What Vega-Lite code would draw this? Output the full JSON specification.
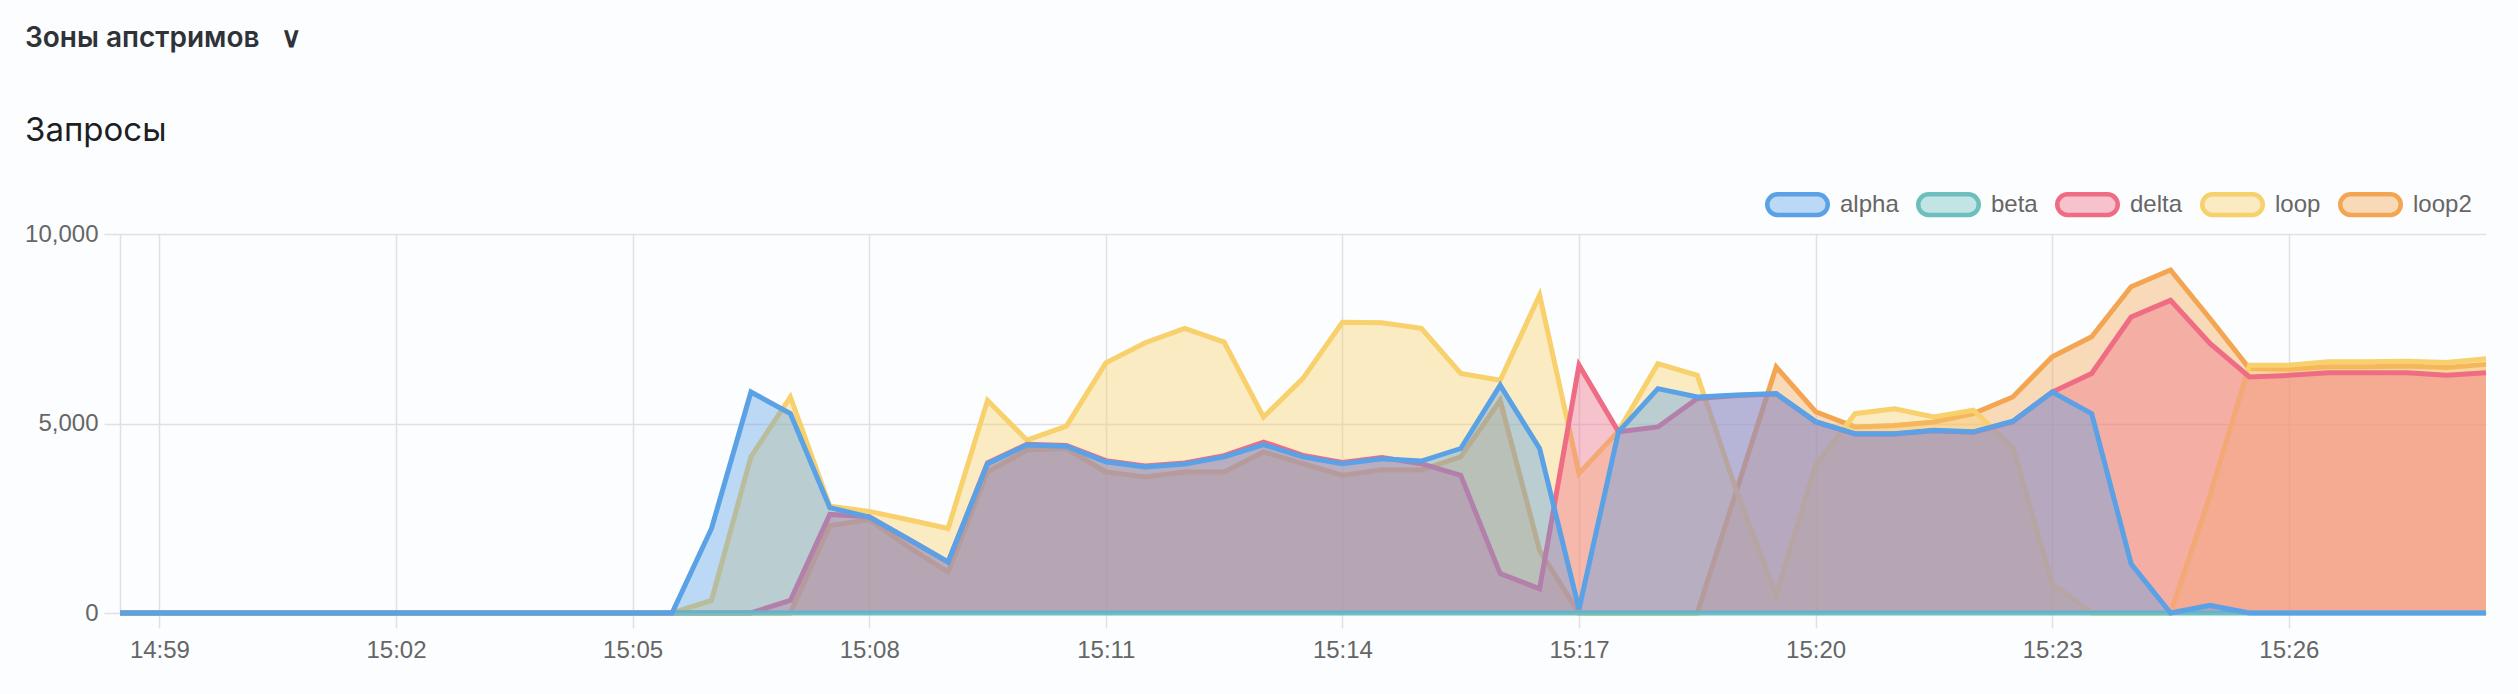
{
  "$schema": "https://vega.github.io/schema/vega-lite/v6.json",
  "width": 2366,
  "height": 379,
  "autosize": {"type": "none"},
  "padding": {"left": 120, "top": 234, "right": 32, "bottom": 81},
  "background": "#fcfdfe",
  "title": {
    "text": "Зоны апстримов\u00a0\u00a0\u00a0∨",
    "subtitle": "Запросы",
    "anchor": "start",
    "frame": "group",
    "dx": -95,
    "offset": 24,
    "font": "Inter",
    "fontSize": 28,
    "fontWeight": 600,
    "color": "#2f3237",
    "subtitleFont": "Inter",
    "subtitleFontSize": 33,
    "subtitleFontWeight": 400,
    "subtitleColor": "#1d1f22",
    "subtitlePadding": 62
  },
  "data": {
    "values": [
      {"time": "2024-01-01T14:58:30", "alpha": 0, "beta": 0, "delta": 0, "loop": 0, "loop2": 0},
      {"time": "2024-01-01T14:59:00", "alpha": 0, "beta": 0, "delta": 0, "loop": 0, "loop2": 0},
      {"time": "2024-01-01T14:59:30", "alpha": 0, "beta": 0, "delta": 0, "loop": 0, "loop2": 0},
      {"time": "2024-01-01T15:00:00", "alpha": 0, "beta": 0, "delta": 0, "loop": 0, "loop2": 0},
      {"time": "2024-01-01T15:00:30", "alpha": 0, "beta": 0, "delta": 0, "loop": 0, "loop2": 0},
      {"time": "2024-01-01T15:01:00", "alpha": 0, "beta": 0, "delta": 0, "loop": 0, "loop2": 0},
      {"time": "2024-01-01T15:01:30", "alpha": 0, "beta": 0, "delta": 0, "loop": 0, "loop2": 0},
      {"time": "2024-01-01T15:02:00", "alpha": 0, "beta": 0, "delta": 0, "loop": 0, "loop2": 0},
      {"time": "2024-01-01T15:02:30", "alpha": 0, "beta": 0, "delta": 0, "loop": 0, "loop2": 0},
      {"time": "2024-01-01T15:03:00", "alpha": 0, "beta": 0, "delta": 0, "loop": 0, "loop2": 0},
      {"time": "2024-01-01T15:03:30", "alpha": 0, "beta": 0, "delta": 0, "loop": 0, "loop2": 0},
      {"time": "2024-01-01T15:04:00", "alpha": 0, "beta": 0, "delta": 0, "loop": 0, "loop2": 0},
      {"time": "2024-01-01T15:04:30", "alpha": 0, "beta": 0, "delta": 0, "loop": 0, "loop2": 0},
      {"time": "2024-01-01T15:05:00", "alpha": 0, "beta": 0, "delta": 0, "loop": 0, "loop2": 0},
      {"time": "2024-01-01T15:05:30", "alpha": 0, "beta": 0, "delta": 0, "loop": 0, "loop2": 0},
      {"time": "2024-01-01T15:06:00", "alpha": 2230, "beta": 0, "delta": 0, "loop": 330, "loop2": 0},
      {"time": "2024-01-01T15:06:30", "alpha": 5830, "beta": 0, "delta": 0, "loop": 4120, "loop2": 0},
      {"time": "2024-01-01T15:07:00", "alpha": 5260, "beta": 0, "delta": 330, "loop": 5700, "loop2": 0},
      {"time": "2024-01-01T15:07:30", "alpha": 2780, "beta": 0, "delta": 2600, "loop": 2820, "loop2": 2310},
      {"time": "2024-01-01T15:08:00", "alpha": 2530, "beta": 0, "delta": 2540, "loop": 2680, "loop2": 2460},
      {"time": "2024-01-01T15:08:30", "alpha": 1950, "beta": 0, "delta": 1940, "loop": 2460, "loop2": 1740},
      {"time": "2024-01-01T15:09:00", "alpha": 1350, "beta": 0, "delta": 1340, "loop": 2230, "loop2": 1080},
      {"time": "2024-01-01T15:09:30", "alpha": 3940, "beta": 0, "delta": 3960, "loop": 5610, "loop2": 3720},
      {"time": "2024-01-01T15:10:00", "alpha": 4430, "beta": 0, "delta": 4450, "loop": 4560, "loop2": 4300},
      {"time": "2024-01-01T15:10:30", "alpha": 4400, "beta": 0, "delta": 4420, "loop": 4930, "loop2": 4340},
      {"time": "2024-01-01T15:11:00", "alpha": 3990, "beta": 0, "delta": 4020, "loop": 6600, "loop2": 3720},
      {"time": "2024-01-01T15:11:30", "alpha": 3850, "beta": 0, "delta": 3880, "loop": 7130, "loop2": 3590},
      {"time": "2024-01-01T15:12:00", "alpha": 3930, "beta": 0, "delta": 3960, "loop": 7510, "loop2": 3720},
      {"time": "2024-01-01T15:12:30", "alpha": 4120, "beta": 0, "delta": 4150, "loop": 7150, "loop2": 3720},
      {"time": "2024-01-01T15:13:00", "alpha": 4440, "beta": 0, "delta": 4510, "loop": 5170, "loop2": 4250},
      {"time": "2024-01-01T15:13:30", "alpha": 4120, "beta": 0, "delta": 4160, "loop": 6190, "loop2": 3940},
      {"time": "2024-01-01T15:14:00", "alpha": 3940, "beta": 0, "delta": 3970, "loop": 7670, "loop2": 3630},
      {"time": "2024-01-01T15:14:30", "alpha": 4070, "beta": 0, "delta": 4100, "loop": 7660, "loop2": 3780},
      {"time": "2024-01-01T15:15:00", "alpha": 4010, "beta": 0, "delta": 3940, "loop": 7510, "loop2": 3770},
      {"time": "2024-01-01T15:15:30", "alpha": 4340, "beta": 0, "delta": 3630, "loop": 6320, "loop2": 4120},
      {"time": "2024-01-01T15:16:00", "alpha": 6010, "beta": 0, "delta": 1040, "loop": 6140, "loop2": 5610},
      {"time": "2024-01-01T15:16:30", "alpha": 4340, "beta": 0, "delta": 640, "loop": 8390, "loop2": 1650},
      {"time": "2024-01-01T15:17:00", "alpha": 100, "beta": 0, "delta": 6540, "loop": 3680, "loop2": 0},
      {"time": "2024-01-01T15:17:30", "alpha": 4780, "beta": 0, "delta": 4780, "loop": 4800, "loop2": 0},
      {"time": "2024-01-01T15:18:00", "alpha": 5920, "beta": 0, "delta": 4910, "loop": 6580, "loop2": 0},
      {"time": "2024-01-01T15:18:30", "alpha": 5700, "beta": 0, "delta": 5660, "loop": 6270, "loop2": 0},
      {"time": "2024-01-01T15:19:00", "alpha": 5750, "beta": 0, "delta": 5740, "loop": 3200, "loop2": 3250},
      {"time": "2024-01-01T15:19:30", "alpha": 5790, "beta": 0, "delta": 5780, "loop": 470, "loop2": 6490},
      {"time": "2024-01-01T15:20:00", "alpha": 5050, "beta": 0, "delta": 5040, "loop": 3900, "loop2": 5310},
      {"time": "2024-01-01T15:20:30", "alpha": 4730, "beta": 0, "delta": 4720, "loop": 5260, "loop2": 4910},
      {"time": "2024-01-01T15:21:00", "alpha": 4730, "beta": 0, "delta": 4720, "loop": 5390, "loop2": 4950},
      {"time": "2024-01-01T15:21:30", "alpha": 4820, "beta": 0, "delta": 4810, "loop": 5170, "loop2": 5040},
      {"time": "2024-01-01T15:22:00", "alpha": 4780, "beta": 0, "delta": 4770, "loop": 5350, "loop2": 5260},
      {"time": "2024-01-01T15:22:30", "alpha": 5060, "beta": 0, "delta": 5050, "loop": 4380, "loop2": 5700},
      {"time": "2024-01-01T15:23:00", "alpha": 5830, "beta": 0, "delta": 5830, "loop": 770, "loop2": 6760},
      {"time": "2024-01-01T15:23:30", "alpha": 5260, "beta": 0, "delta": 6320, "loop": 0, "loop2": 7290},
      {"time": "2024-01-01T15:24:00", "alpha": 1300, "beta": 0, "delta": 7810, "loop": 0, "loop2": 8610},
      {"time": "2024-01-01T15:24:30", "alpha": 0, "beta": 0, "delta": 8250, "loop": 0, "loop2": 9050},
      {"time": "2024-01-01T15:25:00", "alpha": 200, "beta": 0, "delta": 7110, "loop": 3100, "loop2": 7770},
      {"time": "2024-01-01T15:25:30", "alpha": 0, "beta": 0, "delta": 6230, "loop": 6540, "loop2": 6450},
      {"time": "2024-01-01T15:26:00", "alpha": 0, "beta": 0, "delta": 6270, "loop": 6540, "loop2": 6430},
      {"time": "2024-01-01T15:26:30", "alpha": 0, "beta": 0, "delta": 6340, "loop": 6630, "loop2": 6500},
      {"time": "2024-01-01T15:27:00", "alpha": 0, "beta": 0, "delta": 6340, "loop": 6630, "loop2": 6500},
      {"time": "2024-01-01T15:27:30", "alpha": 0, "beta": 0, "delta": 6340, "loop": 6640, "loop2": 6520},
      {"time": "2024-01-01T15:28:00", "alpha": 0, "beta": 0, "delta": 6270, "loop": 6610, "loop2": 6480},
      {"time": "2024-01-01T15:28:30", "alpha": 0, "beta": 0, "delta": 6340, "loop": 6710, "loop2": 6560}
    ]
  },
  "transform": [
    {"fold": ["alpha", "beta", "delta", "loop", "loop2"], "as": ["series", "value"]}
  ],
  "encoding": {
    "x": {
      "field": "time",
      "type": "temporal",
      "scale": {
        "domain": [
          {"year": 2024, "month": 1, "date": 1, "hours": 14, "minutes": 58, "seconds": 30},
          {"year": 2024, "month": 1, "date": 1, "hours": 15, "minutes": 28, "seconds": 30}
        ],
        "nice": false
      },
      "axis": {
        "title": null,
        "format": "%H:%M",
        "values": [
          {"year": 2024, "month": 1, "date": 1, "hours": 14, "minutes": 59},
          {"year": 2024, "month": 1, "date": 1, "hours": 15, "minutes": 2},
          {"year": 2024, "month": 1, "date": 1, "hours": 15, "minutes": 5},
          {"year": 2024, "month": 1, "date": 1, "hours": 15, "minutes": 8},
          {"year": 2024, "month": 1, "date": 1, "hours": 15, "minutes": 11},
          {"year": 2024, "month": 1, "date": 1, "hours": 15, "minutes": 14},
          {"year": 2024, "month": 1, "date": 1, "hours": 15, "minutes": 17},
          {"year": 2024, "month": 1, "date": 1, "hours": 15, "minutes": 20},
          {"year": 2024, "month": 1, "date": 1, "hours": 15, "minutes": 23},
          {"year": 2024, "month": 1, "date": 1, "hours": 15, "minutes": 26}
        ],
        "tickSize": 15,
        "labelPadding": 10,
        "labelFlush": false
      }
    },
    "y": {
      "field": "value",
      "type": "quantitative",
      "stack": null,
      "scale": {"domain": [0, 10000], "nice": false},
      "axis": {
        "title": null,
        "values": [0, 5000, 10000],
        "format": ",d",
        "tickSize": 16,
        "labelPadding": 6
      }
    },
    "color": {
      "field": "series",
      "type": "nominal",
      "scale": {
        "domain": ["alpha", "beta", "delta", "loop", "loop2"],
        "range": ["#5aa1e6", "#6dbfbe", "#ee6c84", "#f8d06c", "#f3a552"]
      },
      "legend": {
        "title": null,
        "orient": "none",
        "legendX": 1645,
        "legendY": -62,
        "direction": "horizontal",
        "symbolType": "M-0.661,-0.339L0.661,-0.339A0.339,0.339,0,0,1,0.661,0.339L-0.661,0.339A0.339,0.339,0,0,1,-0.661,-0.339Z",
        "symbolSize": 3660,
        "labelOffset": 10,
        "columnPadding": 10,
        "padding": 0,
        "encode": {
          "symbols": {
            "update": {
              "fill": {"scale": "color", "field": "value"},
              "fillOpacity": {"value": 0.4},
              "stroke": {"scale": "color", "field": "value"},
              "strokeWidth": {"value": 4.5},
              "opacity": {"value": 1}
            }
          }
        }
      }
    }
  },
  "layer": [
    {"transform": [{"filter": "datum.series === 'loop2'"}], "mark": {"type": "area", "fillOpacity": 0.4}},
    {"transform": [{"filter": "datum.series === 'loop2'"}], "mark": {"type": "line", "strokeWidth": 5}},
    {"transform": [{"filter": "datum.series === 'loop'"}], "mark": {"type": "area", "fillOpacity": 0.4}},
    {"transform": [{"filter": "datum.series === 'loop'"}], "mark": {"type": "line", "strokeWidth": 5}},
    {"transform": [{"filter": "datum.series === 'delta'"}], "mark": {"type": "area", "fillOpacity": 0.4}},
    {"transform": [{"filter": "datum.series === 'delta'"}], "mark": {"type": "line", "strokeWidth": 5}},
    {"transform": [{"filter": "datum.series === 'beta'"}], "mark": {"type": "area", "fillOpacity": 0.4}},
    {"transform": [{"filter": "datum.series === 'beta'"}], "mark": {"type": "line", "strokeWidth": 5}},
    {"transform": [{"filter": "datum.series === 'alpha'"}], "mark": {"type": "area", "fillOpacity": 0.4}},
    {"transform": [{"filter": "datum.series === 'alpha'"}], "mark": {"type": "line", "strokeWidth": 5}}
  ],
  "config": {
    "view": {"stroke": null},
    "axis": {
      "labelFont": "Liberation Sans",
      "labelFontSize": 24,
      "labelColor": "#666666",
      "gridColor": "#e1e1e3",
      "gridWidth": 1.5,
      "tickColor": "#e1e1e3",
      "tickWidth": 1.5,
      "domainColor": "#e1e1e3",
      "domainWidth": 1.5
    },
    "legend": {
      "labelFont": "Liberation Sans",
      "labelFontSize": 24,
      "labelColor": "#666666"
    }
  }
}
